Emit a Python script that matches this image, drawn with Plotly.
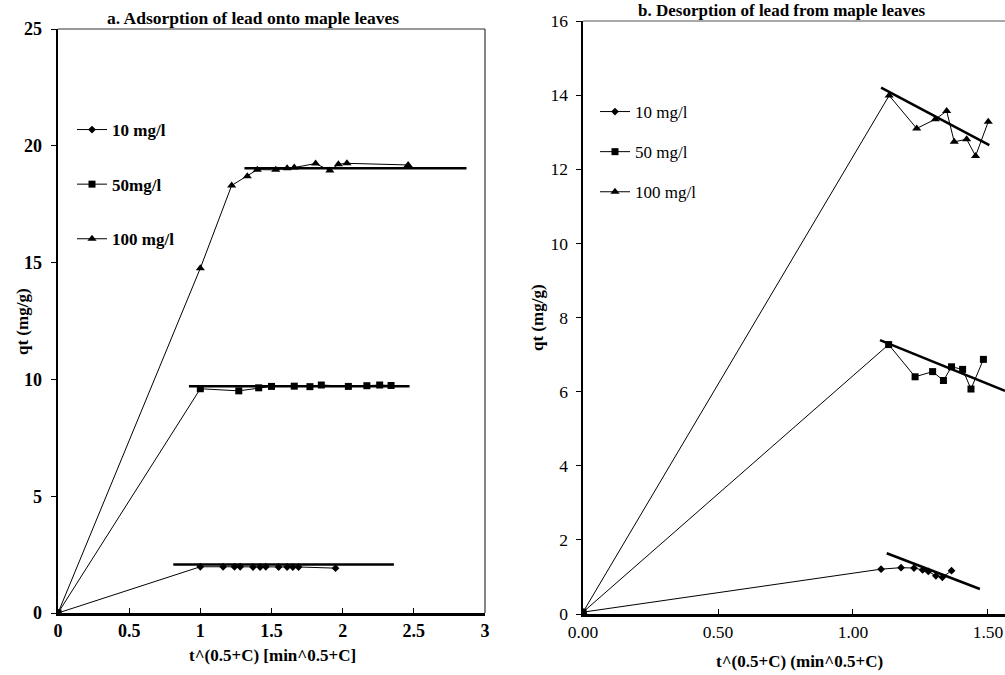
import plotly.graph_objects as go

# ---------- Panel a: adsorption ----------
a_labels = ["10 mg/l", "50mg/l", "100 mg/l"]
a10_x = [0, 1.00, 1.16, 1.24, 1.28, 1.37, 1.42, 1.46, 1.55, 1.61, 1.65, 1.69, 1.95]
a10_y = [0, 1.98, 1.98, 1.98, 1.98, 1.97, 1.97, 1.98, 1.97, 1.97, 1.97, 1.97, 1.92]
a50_x = [0, 1.00, 1.27, 1.41, 1.50, 1.66, 1.77, 1.85, 2.04, 2.17, 2.26, 2.34]
a50_y = [0, 9.60, 9.51, 9.64, 9.70, 9.71, 9.69, 9.76, 9.70, 9.73, 9.76, 9.74]
a100_x = [0, 1.00, 1.22, 1.33, 1.40, 1.53, 1.61, 1.66, 1.81, 1.91, 1.97, 2.03, 2.46]
a100_y = [0, 14.76, 18.3, 18.7, 18.98, 18.97, 19.04, 19.07, 19.24, 18.94, 19.21, 19.25, 19.18]
a_fit10_x = [0.81, 2.36]
a_fit10_y = [2.08, 2.08]
a_fit50_x = [0.92, 2.47]
a_fit50_y = [9.71, 9.71]
a_fit100_x = [1.31, 2.87]
a_fit100_y = [19.04, 19.04]
a_xticks = [0, 0.5, 1, 1.5, 2, 2.5, 3]
a_xticklabels = ["0", "0.5", "1", "1.5", "2", "2.5", "3"]
a_yticks = [0, 5, 10, 15, 20, 25]

# ---------- Panel b: desorption ----------
b_labels = ["10 mg/l", "50 mg/l", "100 mg/l"]
b10_x = [0, 1.104, 1.178, 1.226, 1.258, 1.279, 1.307, 1.331, 1.365]
b10_y = [0.05, 1.21, 1.25, 1.24, 1.19, 1.15, 1.03, 0.99, 1.17]
b50_x = [0, 1.132, 1.230, 1.295, 1.335, 1.365, 1.406, 1.437, 1.483]
b50_y = [0.05, 7.27, 6.40, 6.54, 6.30, 6.67, 6.60, 6.07, 6.87]
b100_x = [0, 1.134, 1.236, 1.305, 1.347, 1.375, 1.421, 1.454, 1.501]
b100_y = [0.05, 13.99, 13.10, 13.35, 13.57, 12.74, 12.81, 12.36, 13.28]
b_fit10_x = [1.125, 1.470]
b_fit10_y = [1.64, 0.675]
b_fit50_x = [1.10, 1.563]
b_fit50_y = [7.39, 6.02]
b_fit100_x = [1.104, 1.505]
b_fit100_y = [14.20, 12.65]
b_xticks = [0, 0.5, 1.0, 1.5]
b_xticklabels = ["0.00", "0.50", "1.00", "1.50"]
b_yticks = [0, 2, 4, 6, 8, 10, 12, 14, 16]

FONT = "Liberation Serif, Times New Roman, serif"
W, H = 1005, 675

fig = go.Figure()

symbols = ["diamond", "square", "triangle-up"]
sizes = [6, 7, 8]

a_series = [(a10_x, a10_y), (a50_x, a50_y), (a100_x, a100_y)]
for i, (xs, ys) in enumerate(a_series):
    fig.add_trace(go.Scatter(
        x=xs, y=ys, mode="lines+markers", name=a_labels[i],
        line=dict(color="black", width=1),
        marker=dict(symbol=symbols[i], size=sizes[i], color="black"),
        xaxis="x", yaxis="y", legend="legend", legendgroup="a%d" % i,
    ))
for fx, fy in [(a_fit10_x, a_fit10_y), (a_fit50_x, a_fit50_y), (a_fit100_x, a_fit100_y)]:
    fig.add_trace(go.Scatter(x=fx, y=fy, mode="lines", showlegend=False,
                             line=dict(color="black", width=2.5),
                             xaxis="x", yaxis="y"))

b_series = [(b10_x, b10_y), (b50_x, b50_y), (b100_x, b100_y)]
for i, (xs, ys) in enumerate(b_series):
    fig.add_trace(go.Scatter(
        x=xs, y=ys, mode="lines+markers", name=b_labels[i],
        line=dict(color="black", width=1),
        marker=dict(symbol=symbols[i], size=sizes[i], color="black"),
        xaxis="x2", yaxis="y2", legend="legend2", legendgroup="b%d" % i,
    ))
for fx, fy in [(b_fit10_x, b_fit10_y), (b_fit50_x, b_fit50_y), (b_fit100_x, b_fit100_y)]:
    fig.add_trace(go.Scatter(x=fx, y=fy, mode="lines", showlegend=False,
                             line=dict(color="black", width=2.5),
                             xaxis="x2", yaxis="y2"))

def px_x(p):
    return p / W

def px_y(p):
    return 1 - p / H

axis_common = dict(showgrid=False, zeroline=False, showline=True, linecolor="black",
                   linewidth=2.5, ticklen=5, tickwidth=1, tickcolor="black",
                   automargin=False)

fig.update_layout(
    width=W, height=H,
    margin=dict(l=0, r=0, t=0, b=0, autoexpand=False),
    paper_bgcolor="white", plot_bgcolor="white",
    font=dict(family=FONT, color="black"),
    hovermode=False,
    xaxis=dict(domain=[px_x(58), px_x(485)], range=[0, 3], tickvals=a_xticks,
               ticktext=a_xticklabels, ticks="inside", anchor="y",
               tickfont=dict(family=FONT, size=18, color="black", weight="bold"),
               **axis_common),
    yaxis=dict(domain=[px_y(613), px_y(29)], range=[0, 25], tickvals=a_yticks,
               ticks="outside", anchor="x", ticklabelstandoff=5,
               tickfont=dict(family=FONT, size=18, color="black", weight="bold"),
               **axis_common),
    xaxis2=dict(domain=[px_x(583), 1.0], range=[0, 1.563], tickvals=b_xticks,
                ticktext=b_xticklabels, ticks="inside", anchor="y2",
                tickfont=dict(family=FONT, size=17.5, color="black"),
                **axis_common),
    yaxis2=dict(domain=[px_y(614), px_y(21)], range=[0, 16], tickvals=b_yticks,
                ticks="outside", anchor="x2", ticklabelstandoff=4,
                tickfont=dict(family=FONT, size=17.5, color="black"),
                **axis_common),
    legend=dict(x=px_x(72), y=px_y(112), xanchor="left", yanchor="top",
                bgcolor="rgba(0,0,0,0)", itemwidth=30, tracegroupgap=29.5,
                font=dict(family=FONT, size=17, color="black", weight="bold")),
    legend2=dict(x=px_x(595), y=px_y(94), xanchor="left", yanchor="top",
                 bgcolor="rgba(0,0,0,0)", itemwidth=30, tracegroupgap=15,
                 font=dict(family=FONT, size=17, color="black")),
    showlegend=True,
)

# thin top/right frame lines
fig.add_shape(type="line", xref="x domain", yref="y domain", x0=0, x1=1, y0=1, y1=1,
              line=dict(color="#333", width=1.2))
fig.add_shape(type="line", xref="x domain", yref="y domain", x0=1, x1=1, y0=0, y1=1,
              line=dict(color="#333", width=1.2))
fig.add_shape(type="line", xref="x2 domain", yref="y2 domain", x0=0, x1=1, y0=1, y1=1,
              line=dict(color="#555", width=1.2))

ann = [
    dict(text="<b>a. Adsorption of lead onto maple leaves</b>", x=px_x(253), y=px_y(18), size=17.5),
    dict(text="<b>b. Desorption of lead from maple leaves</b>", x=px_x(782), y=px_y(10), size=17),
    dict(text="<b>t^(0.5+C) [min^0.5+C]</b>", x=px_x(272), y=px_y(655), size=17),
    dict(text="<b>t^(0.5+C) (min^0.5+C)</b>", x=px_x(799), y=px_y(661), size=17),
]
for a in ann:
    fig.add_annotation(text=a["text"], x=a["x"], y=a["y"], xref="paper", yref="paper",
                       showarrow=False, xanchor="center", yanchor="middle",
                       font=dict(family=FONT, size=a["size"], color="black"))
fig.add_annotation(text="<b>qt (mg/g)</b>", x=px_x(22), y=px_y(322), xref="paper", yref="paper",
                   showarrow=False, textangle=-90, xanchor="center", yanchor="middle",
                   font=dict(family=FONT, size=17, color="black"))
fig.add_annotation(text="<b>qt (mg/g)</b>", x=px_x(538), y=px_y(318), xref="paper", yref="paper",
                   showarrow=False, textangle=-90, xanchor="center", yanchor="middle",
                   font=dict(family=FONT, size=17, color="black"))

fig.write_html("out.html", config={"displayModeBar": False, "staticPlot": True},
               post_script="document.body.style.margin='0';document.body.style.overflow='hidden';")
